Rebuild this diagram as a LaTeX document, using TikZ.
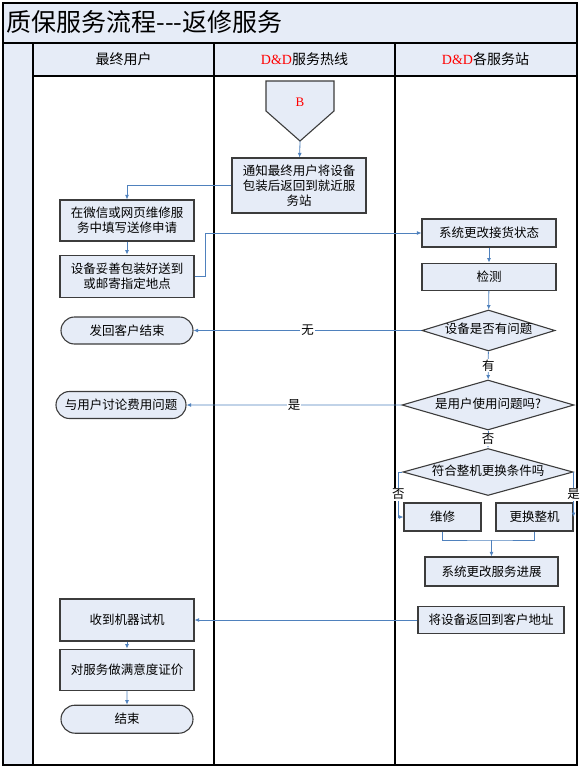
\documentclass[tikz,border=0pt]{standalone}
\usepackage{fontspec}
\setmainfont{Liberation Serif}
\newfontfamily\cjk{Noto Sans CJK SC}
\usetikzlibrary{positioning,shapes.geometric,shapes.misc,arrows.meta}
\definecolor{laneblue}{RGB}{230,236,247}
\definecolor{flowblue}{RGB}{79,129,189}
\definecolor{edgegray}{RGB}{60,60,60}
\tikzset{
  box/.style={draw=edgegray, line width=1.1pt, fill=laneblue, minimum width=134pt,
    minimum height=42pt, inner sep=1pt, align=center,
    font=\cjk\fontsize{12.5}{15}\selectfont},
  term/.style={box, rounded rectangle, minimum height=27pt},
  ask/.style={box, diamond, inner sep=0pt, text height=8pt, text depth=2pt},
  flow/.style={draw=flowblue, line width=0.8pt, -{Latex[length=4.5pt,width=4pt]}},
  link/.style={draw=flowblue, line width=0.8pt},
  tag/.style={font=\cjk\fontsize{12.5}{12.5}\selectfont, fill=white, inner sep=1pt},
  lane/.style={draw=black, line width=1.2pt},
  head/.style={font=\cjk\fontsize{14}{14}\selectfont},
}
\begin{document}
\begin{tikzpicture}[x=1pt, y=-1pt]
  \useasboundingbox (0,0) rectangle (579,768);
  \fill[laneblue] (3,3) rectangle (577,43);
  \fill[laneblue] (3,43) rectangle (33,765);
  \fill[laneblue] (33,43) rectangle (577,76);
  \draw[lane] (3,3) rectangle (577,765);
  \draw[lane] (3,43) -- (577,43);
  \draw[lane] (33,76) -- (577,76);
  \foreach \x in {33,214,395} {
    \draw[lane] (\x,43) -- (\x,765);
  }
  \node[anchor=west, font=\cjk\fontsize{25}{25}\selectfont] (title) at (3,22) {质保服务流程---返修服务};
  \node[head] (user) at (123.5,59) {最终用户};
  \node[head] (hotline) at (304.5,59) {{\rmfamily\color{red}D\&D}服务热线};
  \node[head] (station) at (485.5,59) {{\rmfamily\color{red}D\&D}各服务站};

  \draw[draw=edgegray, line width=1.1pt, fill=laneblue]
    (266,81) -- (334,81) -- (334,111) -- (300,141) -- (266,111) -- cycle;
  \node[text=red, font=\fontsize{13}{13}\selectfont] (b) at (300,102) {B};
  \coordinate (btip) at (300,141);

  \node[box, minimum height=55pt] (notify) at (299,185.5) {通知最终用户将设备\\包装后返回到就近服\\务站};
  \node[box, minimum height=41pt] (wechat) at (127,220.5) {在微信或网页维修服\\务中填写送修申请};
  \node[box, below=13pt of wechat] (pack) {设备妥善包装好送到\\或邮寄指定地点};
  \node[box, minimum height=28pt] (recv) at (489,233) {系统更改接货状态};
  \node[box, minimum height=27pt, below=15pt of recv] (check) {检测};
  \node[ask, minimum width=133pt, minimum height=41pt, aspect=3.2] (d1) at (488.5,330.5) {设备是否有问题};
  \node[term] (sendback) at (127,330.5) {发回客户结束};
  \node[ask, minimum width=172pt, minimum height=50pt, aspect=3.4] (d2) at (488,405) {是用户使用问题吗?};
  \node[term, minimum width=132pt] (discuss) at (121,405) {与用户讨论费用问题};
  \node[ask, minimum width=170pt, minimum height=47pt, aspect=3.6] (d3) at (488,472) {符合整机更换条件吗};
  \node[box, minimum width=77pt, minimum height=28pt] (repair) at (442.5,517) {维修};
  \node[box, minimum width=77pt, minimum height=28pt] (swap) at (534.5,517) {更换整机};
  \node[box, minimum width=133pt, minimum height=29pt] (progress) at (491.5,571.5) {系统更改服务进展};
  \node[box, minimum width=146pt, minimum height=27pt] (ret) at (491,620) {将设备返回到客户地址};
  \node[box] (tryit) at (127,620) {收到机器试机};
  \node[box, minimum height=41pt, below=7pt of tryit] (rate) {对服务做满意度证价};
  \node[term, minimum height=28pt, below=14pt of rate] (done) {结束};
  \coordinate (join) at (491.5,540);

  \draw[flow] (btip) -- (notify);
  \draw[flow] (notify.west) -| (wechat.north);
  \draw[flow] (wechat) -- (pack);
  \draw[flow] (pack.east) -- ++(11,0) |- (recv.west);
  \draw[flow] (recv) -- (check);
  \draw[flow] (check) -- (d1);
  \draw[flow] (d1) -- node[tag] {无} (sendback);
  \draw[flow] (d1) -- node[tag] {有} (d2);
  \draw[flow] (d2) -- node[tag] {是} (discuss);
  \draw[flow] (d2) -- node[tag] {否} (d3);
  \draw[flow] (d3.west) -- ++(-4,0) |- node[tag, pos=0.25] {否} (repair.west);
  \draw[flow] (d3.east) -- node[tag] {是} (swap.east);
  \draw[link] (repair.south) |- (join) -| (swap.south);
  \draw[flow] (join) -- (progress);
  \draw[flow] (ret) -- (tryit);
  \draw[flow] (tryit) -- (rate);
  \draw[flow] (rate) -- (done);
\end{tikzpicture}
\end{document}
